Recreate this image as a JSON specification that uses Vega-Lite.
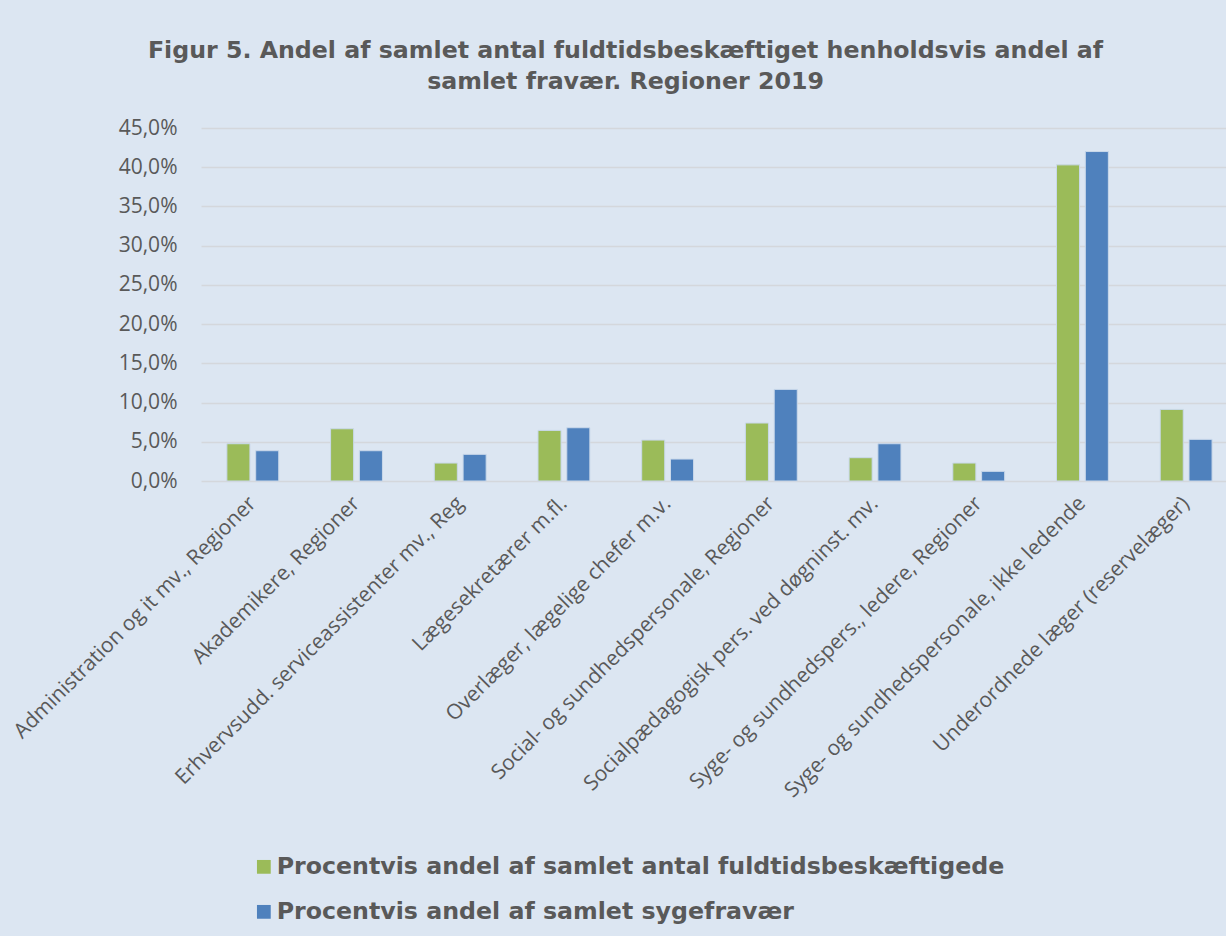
{
  "$schema": "https://vega.github.io/schema/vega-lite/v6.json",
  "autosize": "none",
  "width": 1025,
  "height": 353,
  "padding": {"left": 201, "top": 128, "right": 0, "bottom": 455},
  "background": "#dce6f2",
  "title": {
    "text": ["Figur 5. Andel af samlet antal fuldtidsbeskæftiget henholdsvis andel af", "samlet fravær. Regioner 2019"],
    "font": "DejaVu Sans",
    "fontSize": 23.7,
    "fontWeight": "bold",
    "color": "#595959",
    "lineHeight": 31,
    "anchor": "middle",
    "dx": -88,
    "offset": 23
  },
  "data": {
    "values": [
      {"kategori": "Administration og it mv., Regioner", "serie": "Procentvis andel af samlet antal fuldtidsbeskæftigede", "pct": 4.75},
      {"kategori": "Administration og it mv., Regioner", "serie": "Procentvis andel af samlet sygefravær", "pct": 3.86},
      {"kategori": "Akademikere, Regioner", "serie": "Procentvis andel af samlet antal fuldtidsbeskæftigede", "pct": 6.66},
      {"kategori": "Akademikere, Regioner", "serie": "Procentvis andel af samlet sygefravær", "pct": 3.86},
      {"kategori": "Erhvervsudd. serviceassistenter mv., Reg", "serie": "Procentvis andel af samlet antal fuldtidsbeskæftigede", "pct": 2.29},
      {"kategori": "Erhvervsudd. serviceassistenter mv., Reg", "serie": "Procentvis andel af samlet sygefravær", "pct": 3.4},
      {"kategori": "Lægesekretærer m.fl.", "serie": "Procentvis andel af samlet antal fuldtidsbeskæftigede", "pct": 6.45},
      {"kategori": "Lægesekretærer m.fl.", "serie": "Procentvis andel af samlet sygefravær", "pct": 6.79},
      {"kategori": "Overlæger, lægelige chefer m.v.", "serie": "Procentvis andel af samlet antal fuldtidsbeskæftigede", "pct": 5.22},
      {"kategori": "Overlæger, lægelige chefer m.v.", "serie": "Procentvis andel af samlet sygefravær", "pct": 2.8},
      {"kategori": "Social- og sundhedspersonale, Regioner", "serie": "Procentvis andel af samlet antal fuldtidsbeskæftigede", "pct": 7.39},
      {"kategori": "Social- og sundhedspersonale, Regioner", "serie": "Procentvis andel af samlet sygefravær", "pct": 11.68},
      {"kategori": "Socialpædagogisk pers. ved døgninst. mv.", "serie": "Procentvis andel af samlet antal fuldtidsbeskæftigede", "pct": 2.97},
      {"kategori": "Socialpædagogisk pers. ved døgninst. mv.", "serie": "Procentvis andel af samlet sygefravær", "pct": 4.75},
      {"kategori": "Syge- og sundhedspers., ledere, Regioner", "serie": "Procentvis andel af samlet antal fuldtidsbeskæftigede", "pct": 2.29},
      {"kategori": "Syge- og sundhedspers., ledere, Regioner", "serie": "Procentvis andel af samlet sygefravær", "pct": 1.23},
      {"kategori": "Syge- og sundhedspersonale, ikke ledende", "serie": "Procentvis andel af samlet antal fuldtidsbeskæftigede", "pct": 40.3},
      {"kategori": "Syge- og sundhedspersonale, ikke ledende", "serie": "Procentvis andel af samlet sygefravær", "pct": 42.0},
      {"kategori": "Underordnede læger (reservelæger)", "serie": "Procentvis andel af samlet antal fuldtidsbeskæftigede", "pct": 9.13},
      {"kategori": "Underordnede læger (reservelæger)", "serie": "Procentvis andel af samlet sygefravær", "pct": 5.31}
    ]
  },
  "mark": {"type": "bar", "stroke": "#c9d8ea", "strokeWidth": 1},
  "encoding": {
    "x": {
      "field": "kategori",
      "type": "nominal",
      "sort": null,
      "title": null,
      "scale": {"paddingInner": 0.5, "paddingOuter": 0.192, "align": 0.65},
      "axis": {
        "labelAngle": -45,
        "labelAlign": "right",
        "labelBaseline": "middle",
        "labelFont": "Open Sans",
        "labelFontSize": 21,
        "labelColor": "#595959",
        "labelPadding": 19,
        "labelLimit": 500,
        "ticks": false,
        "domain": false
      }
    },
    "xOffset": {
      "field": "serie",
      "type": "nominal",
      "scale": {"paddingInner": 0.2, "paddingOuter": 0}
    },
    "y": {
      "field": "pct",
      "type": "quantitative",
      "title": null,
      "scale": {"domain": [0, 45], "nice": false},
      "axis": {
        "values": [0, 5, 10, 15, 20, 25, 30, 35, 40, 45],
        "labelExpr": "replace(format(datum.value, '.1f'), '.', ',') + '%'",
        "labelFont": "Open Sans",
        "labelFontSize": 21,
        "labelColor": "#595959",
        "labelPadding": 24,
        "ticks": false,
        "domain": false,
        "grid": true,
        "gridColor": "#d4d7dc",
        "gridWidth": 1.5
      }
    },
    "color": {
      "field": "serie",
      "type": "nominal",
      "scale": {
        "domain": ["Procentvis andel af samlet antal fuldtidsbeskæftigede", "Procentvis andel af samlet sygefravær"],
        "range": ["#9bbb59", "#4f81bd"]
      },
      "legend": {
        "title": null,
        "orient": "none",
        "legendX": 51,
        "legendY": 727,
        "direction": "vertical",
        "symbolType": "square",
        "symbolSize": 190,
        "symbolStrokeWidth": 0,
        "labelFont": "DejaVu Sans",
        "labelFontSize": 23.7,
        "labelFontWeight": "bold",
        "labelColor": "#595959",
        "labelLimit": 1000,
        "labelOffset": 1,
        "rowPadding": 20
      }
    }
  },
  "config": {
    "view": {"stroke": null}
  }
}
